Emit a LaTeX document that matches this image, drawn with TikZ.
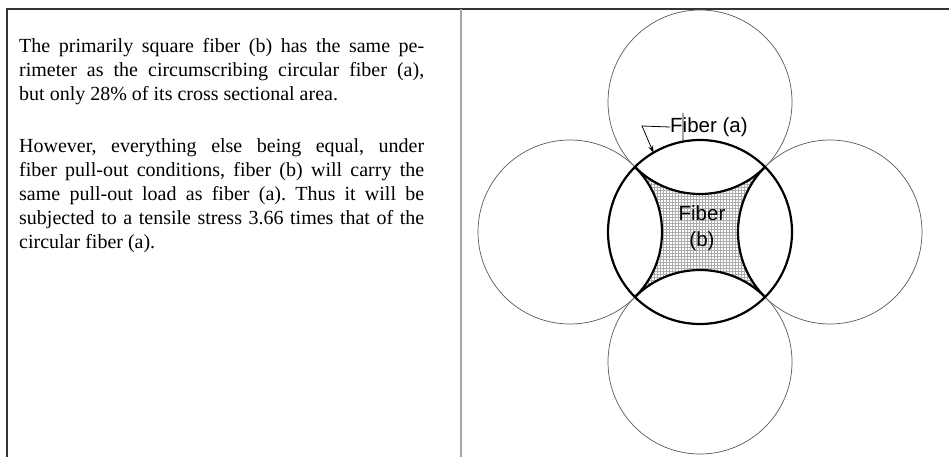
\documentclass[tikz,border=0pt]{standalone}
\usepackage{fontspec}
\setmainfont{Liberation Serif}
\setsansfont{Liberation Sans}
\usetikzlibrary{positioning,arrows.meta,patterns}
\tikzset{
  frame/.style={line width=1.4pt, draw=black!80},
  divider/.style={line width=1.4pt, draw=gray!70},
  thincirc/.style={draw=gray!70!black, line width=0.7pt},
  boldcirc/.style={draw=black, line width=2.2pt},
  lbl/.style={font=\sffamily\fontsize{20.5}{26}\selectfont, inner sep=0pt, align=center},
  lead/.style={-{Stealth[length=7pt,width=5pt]}, line width=0.8pt},
}
\newcommand{\jline}[1]{\makebox[405pt][s]{#1}}

\begin{document}
\begin{tikzpicture}[x=1pt,y=-1pt]
  \useasboundingbox (0,0) rectangle (949,457);
  % table frame
  \draw[frame] (7,457) -- (7,9) -- (949,9);
  \draw[divider] (461,9) -- (461,457);
  % text column
  \node[anchor=base west, inner sep=0pt] (txt) at (19,53) {\parbox[t]{405pt}{%
    \frenchspacing\fontsize{20}{24}\selectfont
    \jline{The primarily square fiber (b) has the same pe-}\\
    \jline{rimeter as the circumscribing circular fiber (a),}\\
    but only 28\% of its cross sectional area.\\[28pt]
    \jline{However, everything else being equal, under}\\
    \jline{fiber pull-out conditions, fiber (b) will carry the}\\
    \jline{same pull-out load as fiber (a). Thus it will be}\\
    \jline{subjected to a tensile stress 3.66 times that of the}\\
    circular fiber (a).}};
  % fibers
  \coordinate (c) at (700,232);
  \fill[pattern=grid, pattern color=gray!65] (c) circle [radius=92pt];
  \foreach \a in {0,90,180,270}
    \fill[white] ([shift={(\a:130pt)}]c) circle [radius=92pt];
  \foreach \a in {0,90,180,270}
    \draw[thincirc] ([shift={(\a:130pt)}]c) circle [radius=92pt];
  \begin{scope}
    \clip (c) circle [radius=92pt];
    \foreach \a in {0,90,180,270}
      \draw[boldcirc] ([shift={(\a:130pt)}]c) circle [radius=92pt];
  \end{scope}
  \draw[boldcirc] (c) circle [radius=92pt];
  % labels
  \coordinate (tick) at (683,113);
  \draw[line width=0.8pt] (tick) -- ([shift={(100.6:92pt)}]c);
  \node[lbl, anchor=west] (fiba) at (670,127) {Fiber (a)};
  \coordinate (bend) at (642,126);
  \coordinate (tip) at ([shift={(120.4:92pt)}]c);
  \draw[lead] (fiba.west) -- (bend) -- (tip);
  \node[lbl] (fibb) at (702,228) {Fiber\\(b)};
\end{tikzpicture}
\end{document}
